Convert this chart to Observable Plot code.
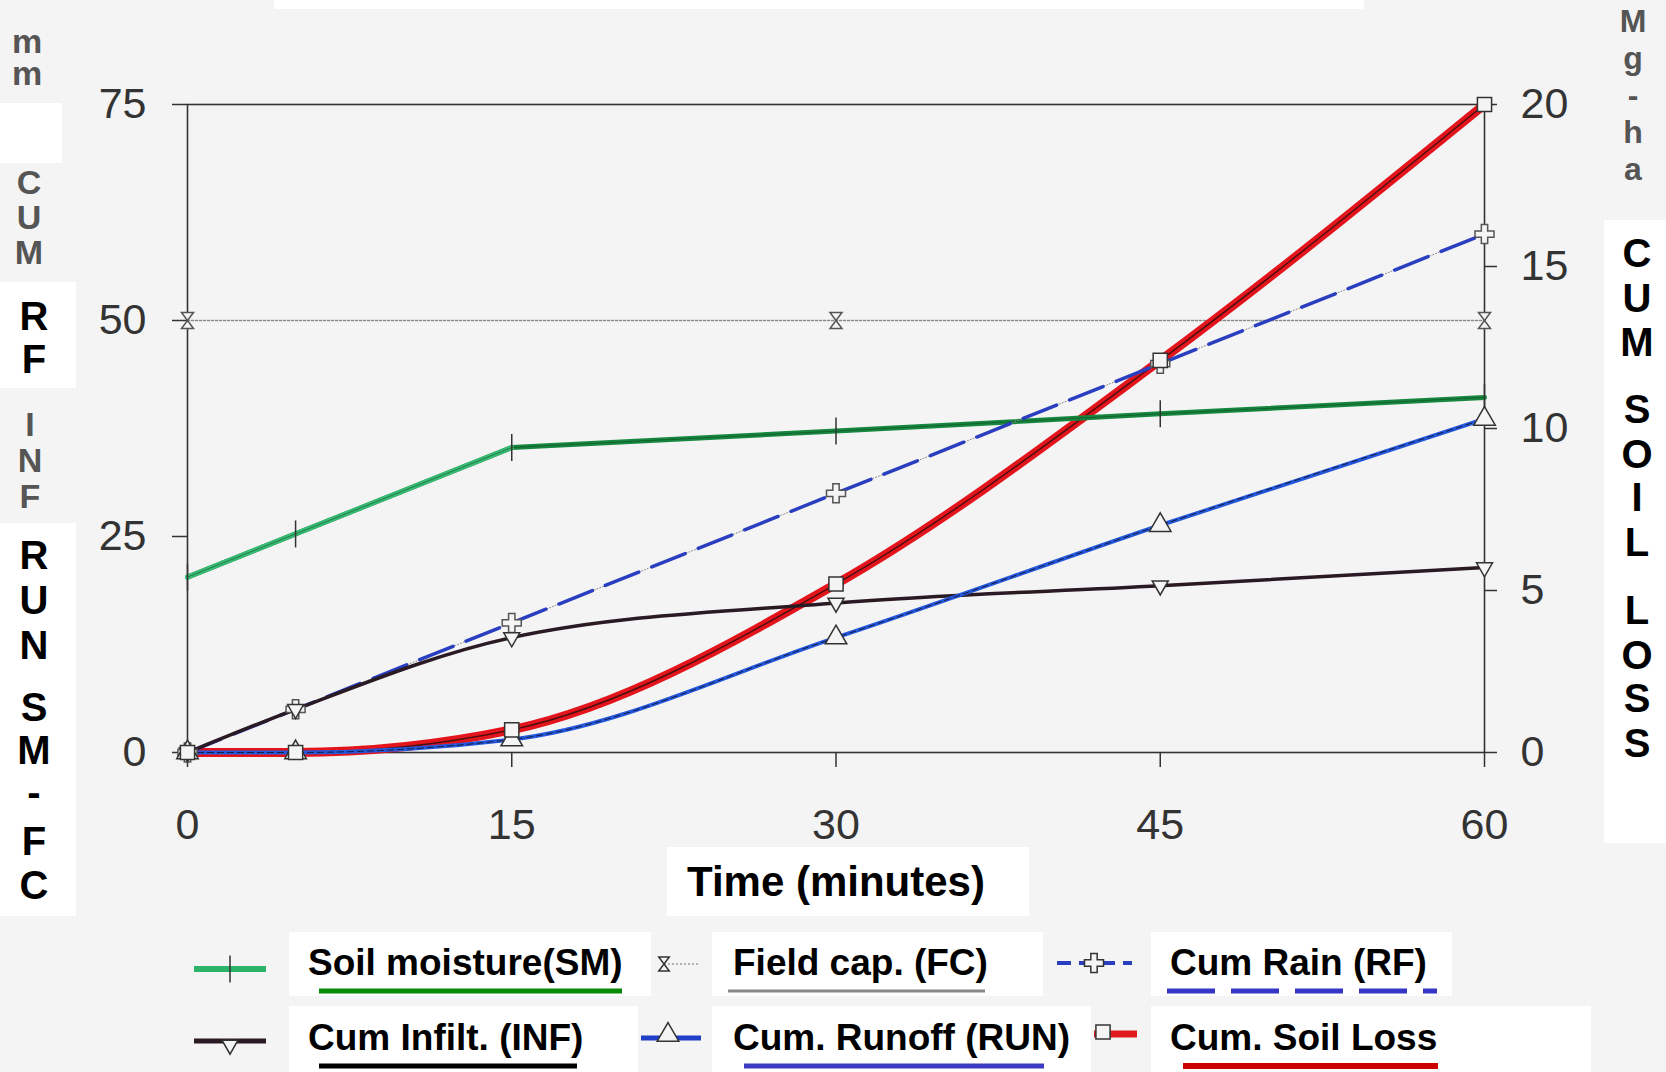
<!DOCTYPE html>
<html><head><meta charset="utf-8">
<script src="https://cdn.jsdelivr.net/npm/d3@7"></script>
<script src="https://cdn.jsdelivr.net/npm/@observablehq/plot@0.6"></script>
<style>
html,body{margin:0;padding:0;background:#f4f4f4;}
#page{position:relative;width:1666px;height:1072px;overflow:hidden;background:#f4f4f4;font-family:"Liberation Sans",Arial,Helvetica,sans-serif;}
#chart{position:absolute;left:0;top:0;}
#overlay{position:absolute;left:0;top:0;pointer-events:none;}
.vert{position:absolute;writing-mode:vertical-rl;text-orientation:upright;font-weight:bold;color:#555;width:60px;line-height:60px;text-align:start;white-space:nowrap;margin:0;padding:0;}
</style></head><body><div id="page"><div id="chart"></div></div>
<script>
// ---- data ----
const time = [0, 5, 15, 30, 45, 60];                 // minutes
const soilMoisture = [20.3, 25.3, 35.3, 37.2, 39.2, 41.1]; // mm
const fcTime = [0, 30, 60];
const fieldCapacity = [50, 50, 50];                  // mm
const cumRain = [0, 5, 15, 30, 45, 60];              // mm
const cumInfilt = [0, 5, 13.3, 17.3, 19.3, 21.4];    // mm
const cumRunoff = [0, 0, 1.5, 13.3, 26.3, 38.6];     // mm
const cumSoilLoss = [0, 0, 0.7, 5.2, 12.1, 20];      // Mg/ha (right axis)
const xTicks = [0, 15, 30, 45, 60];
const leftTicks = [0, 25, 50, 75];
const rightTicks = [0, 5, 10, 15, 20];
const leftMax = 75, rightMax = 20;
const k = leftMax / rightMax;

const rows = time.map((t, i) => ({t, sm: soilMoisture[i], rf: cumRain[i], inf: cumInfilt[i], run: cumRunoff[i], sl: cumSoilLoss[i]}));
const fcRows = fcTime.map((t, i) => ({t, fc: fieldCapacity[i]}));
const fcLine = [{t: 0, fc: fieldCapacity[0]}, {t: 60, fc: fieldCapacity[fieldCapacity.length - 1]}];

// custom marker symbols
const rr = s => Math.sqrt(s / Math.PI);
const sym = {
  vtick: {draw(c, s) { const r = rr(s); c.moveTo(0, -1.5 * r); c.lineTo(0, 1.5 * r); }},
  hourglass: {draw(c, s) { const r = rr(s); c.moveTo(-0.75 * r, -r); c.lineTo(0.75 * r, -r); c.lineTo(-0.75 * r, r); c.lineTo(0.75 * r, r); c.closePath(); }},
  tridown: {draw(c, s) { const r = rr(s); c.moveTo(-r, -0.6 * r); c.lineTo(r, -0.6 * r); c.lineTo(0, 1.15 * r); c.closePath(); }}
};
const mk = {stroke: "#333", strokeWidth: 1.5, fill: "#f4f4f4", r: 8};

const chart = Plot.plot({
  width: 1666, height: 880,
  marginLeft: 187, marginRight: 182, marginTop: 104, marginBottom: 128,
  x: {domain: [0, 60]},
  y: {domain: [0, leftMax]},
  style: {background: "transparent", fontFamily: "'Liberation Sans', Arial, sans-serif", fontSize: "43px", color: "#333", overflow: "visible"},
  marks: [
    Plot.frame({stroke: "#333", strokeWidth: 1.6}),
    Plot.axisX({ticks: xTicks, tickSize: 15, tickPadding: 41, label: null, strokeWidth: 1.5}),
    Plot.axisY({anchor: "left", ticks: leftTicks, tickSize: 15, tickPadding: 26, label: null, strokeWidth: 1.5}),
    Plot.axisY({anchor: "right", ticks: rightTicks.map(v => v * k), tickFormat: v => Math.round(v / k), tickSize: 12, tickPadding: 24, label: null, strokeWidth: 1.5}),
    // field capacity
    Plot.line(fcLine, {x: "t", y: "fc", stroke: "#8a8a8a", strokeWidth: 1.5, strokeDasharray: "2,2"}),
    Plot.dot(fcRows, {x: "t", y: "fc", symbol: sym.hourglass, ...mk, stroke: "#555"}),
    // cumulative soil loss (right axis)
    Plot.line(rows, {x: "t", y: d => d.sl * k, curve: "monotone-x", stroke: "#e3141c", strokeWidth: 9}),
    Plot.line(rows, {x: "t", y: d => d.sl * k, curve: "monotone-x", stroke: "#4a1010", strokeWidth: 1.4}),
    // soil moisture
    Plot.line(rows, {x: "t", y: "sm", stroke: "#17873f", strokeWidth: 5}),
    Plot.line(rows.filter(d => d.t <= 15), {x: "t", y: "sm", stroke: "#38bb74", strokeWidth: 5}),
    Plot.line(rows, {x: "t", y: "sm", stroke: "#0d3a20", strokeWidth: 1, strokeOpacity: 0.5}),
    // cumulative rain
    Plot.line(rows, {x: "t", y: "rf", stroke: "#888", strokeWidth: 1, strokeDasharray: "1,2"}),
    Plot.line(rows, {x: "t", y: "rf", stroke: "#2a3fc0", strokeWidth: 3.5, strokeDasharray: "36,14"}),
    // cumulative infiltration
    Plot.line(rows, {x: "t", y: "inf", curve: "monotone-x", stroke: "#2a1a24", strokeWidth: 3.5}),
    // cumulative runoff
    Plot.line(rows, {x: "t", y: "run", curve: "monotone-x", stroke: "#2458dc", strokeWidth: 4}),
    Plot.line(rows, {x: "t", y: "run", curve: "monotone-x", stroke: "#141a40", strokeWidth: 1, strokeDasharray: "6,4"}),
    // markers
    Plot.dot(rows, {x: "t", y: "sm", symbol: sym.vtick, ...mk, r: 9, fill: "none"}),
    Plot.dot(rows, {x: "t", y: "rf", symbol: "cross", ...mk, stroke: "#555"}),
    Plot.dot(rows, {x: "t", y: "inf", symbol: sym.tridown, ...mk}),
    Plot.dot(rows, {x: "t", y: "run", symbol: "triangle", ...mk}),
    Plot.dot(rows, {x: "t", y: d => d.sl * k, symbol: "square", ...mk})
  ]
});
document.getElementById("chart").appendChild(chart);

// ---- overlay: axis titles, x title, legend ----
const ov = d3.select("#page").append("svg").attr("id", "overlay").attr("width", 1666).attr("height", 1072)
  .attr("font-family", "'Liberation Sans', Arial, sans-serif").attr("font-weight", "bold");
const box = (x0, y0, x1, y1) => ov.append("rect").attr("x", x0).attr("y", y0).attr("width", x1 - x0).attr("height", y1 - y0).attr("fill", "#fff");
[[274,0,1364,9],[0,103,62,163],[0,282,76,388],[0,523,76,916],[1604,220,1666,843],[667,847,1029,916],
 [289,932,651,996],[712,932,1043,996],[1151,932,1452,996],[289,1006,638,1072],[712,1006,1091,1072],[1151,1006,1591,1072]]
  .forEach(b => box(...b));

// black stacked letters (relabelled parts): one tspan per letter
function stack(chars, x, ys, fs, fill) {
  const t = ov.append("text").attr("text-anchor", "middle").attr("font-size", fs).attr("fill", fill);
  chars.forEach((ch, i) => {
    let off = 0.358;
    if (ch === "-") off = 0.28;
    t.append("tspan").attr("x", x).attr("y", ys[i] + off * fs).text(ch);
  });
}
stack(["R","F"], 34, [316, 359], 40, "#000");
stack(["R","U","N","S","M","-","F","C"], 34, [555, 600, 645, 707, 750, 795, 841, 885], 40, "#000");
stack(["C","U","M","S","O","I","L","L","O","S","S"], 1637, [253, 297.5, 342, 409, 454, 497, 542, 610, 654.5, 698, 743], 40, "#000");

// grey (original scan) stacked words: vertical upright text runs
function vword(txt, cx, top, fs, spacing) {
  d3.select("#page").append("div").attr("class", "vert")
    .style("left", (cx - 30) + "px").style("top", top + "px")
    .style("font-size", fs + "px").style("letter-spacing", spacing + "px").text(txt);
}
vword("mm", 27, 22, 34, -6);
vword("CUM", 29, 163, 34, -3);
vword("INF", 30, 405, 34, -2);
vword("Mg-ha", 1633, 3, 32, 1);

// x title
ov.append("text").attr("x", 687).attr("y", 896).attr("font-size", 42).attr("fill", "#000").text("Time (minutes)");

// legend
const legend = [
  {label: "Soil moisture(SM)", tx: 308, ty: 975, ul: [319, 622, 991], ulc: "#078a07", ulw: 5, dash: null},
  {label: "Field cap. (FC)", tx: 733, ty: 975, ul: [728, 985, 991], ulc: "#888", ulw: 3, dash: null},
  {label: "Cum Rain (RF)", tx: 1170, ty: 975, ul: [1167, 1437, 991], ulc: "#3535c8", ulw: 5, dash: "48,16"},
  {label: "Cum Infilt. (INF)", tx: 308, ty: 1050, ul: [319, 577, 1066], ulc: "#000", ulw: 5, dash: null},
  {label: "Cum. Runoff (RUN)", tx: 733, ty: 1050, ul: [744, 1044, 1066], ulc: "#3b3bc4", ulw: 5, dash: null},
  {label: "Cum. Soil Loss", tx: 1170, ty: 1050, ul: [1183, 1438, 1066], ulc: "#cc0000", ulw: 6, dash: null}
];
legend.forEach(l => {
  ov.append("text").attr("x", l.tx).attr("y", l.ty).attr("font-size", 37).attr("fill", "#000").text(l.label);
  ov.append("line").attr("x1", l.ul[0]).attr("x2", l.ul[1]).attr("y1", l.ul[2]).attr("y2", l.ul[2])
    .attr("stroke", l.ulc).attr("stroke-width", l.ulw).attr("stroke-dasharray", l.dash);
});
// swatches
const sw = (x1, x2, y, stroke, w, dash) => ov.append("line").attr("x1", x1).attr("x2", x2).attr("y1", y).attr("y2", y)
  .attr("stroke", stroke).attr("stroke-width", w).attr("stroke-dasharray", dash);
const mark = (type, x, y, r, fill) => ov.append("path").attr("transform", `translate(${x},${y})`)
  .attr("d", d3.symbol().type(type).size(Math.PI * r * r)()).attr("fill", fill).attr("stroke", "#333").attr("stroke-width", 1.5);
sw(194, 266, 969, "#2bb36a", 6); mark(sym.vtick, 230, 969, 9, "none");
sw(664, 698, 964, "#999", 1.5, "2,2"); mark(sym.hourglass, 664, 964, 7, "#f4f4f4");
sw(1057, 1132, 963, "#2a3fc0", 4, "14,8"); mark(d3.symbolCross, 1094, 963, 8, "#f4f4f4");
sw(194, 266, 1041, "#2a1a24", 5); mark(sym.tridown, 230, 1045, 8, "#f4f4f4");
sw(641, 701, 1038, "#1f3fc8", 5); mark(d3.symbolTriangle, 668, 1035, 8, "#f4f4f4");
sw(1094, 1137, 1034, "#e01a1a", 7); mark(d3.symbolSquare, 1103, 1032, 8, "#f4f4f4");
</script></body></html>
